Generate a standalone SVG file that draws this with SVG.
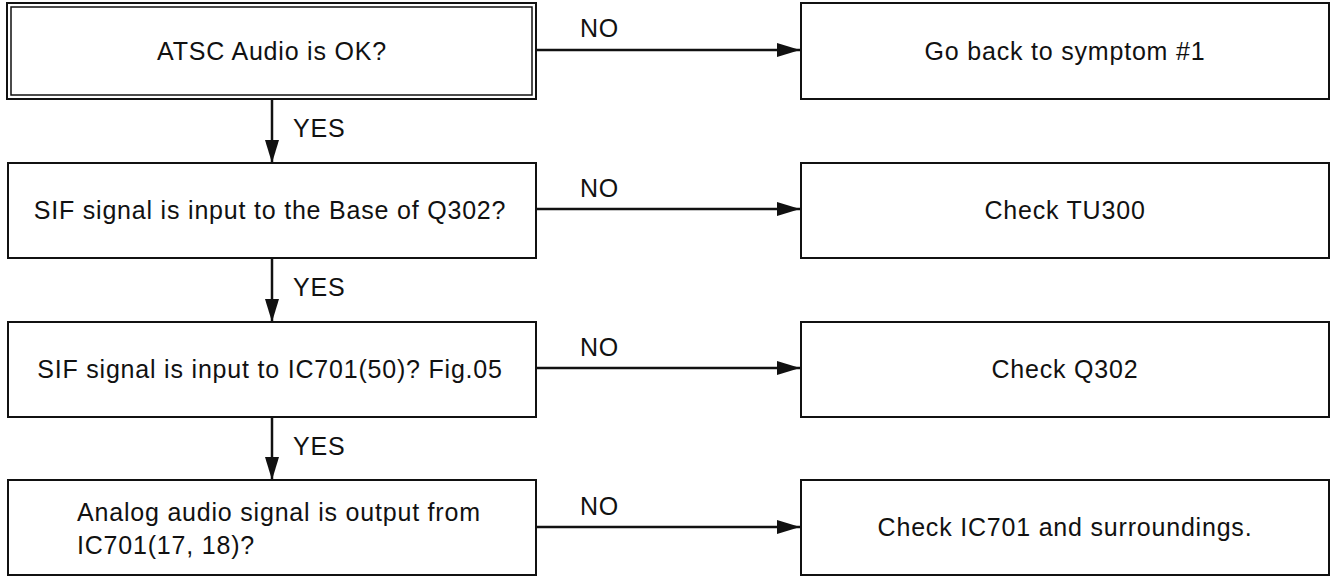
<svg xmlns="http://www.w3.org/2000/svg" width="1331" height="576" viewBox="0 0 1331 576">
<style>
.box{fill:#fff;stroke:#111;stroke-width:2}
.t{font-family:"Liberation Sans",Arial,sans-serif;font-size:25px;fill:#111;letter-spacing:0.8px}
.c{text-anchor:middle}
.ln{stroke:#111;stroke-width:2.5;fill:none}
</style>
<defs>
<marker id="ah" markerUnits="userSpaceOnUse" markerWidth="24" markerHeight="16" refX="23" refY="7" orient="auto">
<path d="M0,0 L23,7 L0,14 Z" fill="#111"/>
</marker>
</defs>
<rect width="1331" height="576" fill="#fff"/>
<g id="connectors">
<line class="ln" x1="536" y1="50" x2="800" y2="50" marker-end="url(#ah)"/>
<line class="ln" x1="536" y1="209" x2="800" y2="209" marker-end="url(#ah)"/>
<line class="ln" x1="536" y1="368" x2="800" y2="368" marker-end="url(#ah)"/>
<line class="ln" x1="536" y1="527" x2="800" y2="527" marker-end="url(#ah)"/>
<line class="ln" x1="272" y1="100" x2="272" y2="163" marker-end="url(#ah)"/>
<line class="ln" x1="272" y1="258" x2="272" y2="322" marker-end="url(#ah)"/>
<line class="ln" x1="272" y1="417" x2="272" y2="480" marker-end="url(#ah)"/>
<text class="t" x="580" y="37">NO</text>
<text class="t" x="580" y="197">NO</text>
<text class="t" x="580" y="356">NO</text>
<text class="t" x="580" y="515">NO</text>
<text class="t" x="293" y="137">YES</text>
<text class="t" x="293" y="296">YES</text>
<text class="t" x="293" y="455">YES</text>
</g>
<g id="n1">
<rect class="box" x="7" y="3" width="529" height="96"/>
<rect x="11" y="7" width="521" height="88" fill="none" stroke="#111" stroke-width="1.5"/>
<text class="t c" x="272" y="60">ATSC Audio is OK?</text>
</g>
<g id="n2">
<rect class="box" x="8" y="163" width="528" height="95"/>
<text class="t c" x="270" y="219">SIF signal is input to the Base of Q302?</text>
</g>
<g id="n3">
<rect class="box" x="8" y="322" width="528" height="95"/>
<text class="t c" x="270" y="378">SIF signal is input to IC701(50)? Fig.05</text>
</g>
<g id="n4">
<rect class="box" x="8" y="480" width="528" height="95"/>
<text class="t" x="77" y="521">Analog audio signal is output from</text>
<text class="t" x="77" y="554">IC701(17, 18)?</text>
</g>
<g id="r1">
<rect class="box" x="801" y="3" width="528" height="96"/>
<text class="t c" x="1065" y="60">Go back to symptom #1</text>
</g>
<g id="r2">
<rect class="box" x="801" y="163" width="528" height="95"/>
<text class="t c" x="1065" y="219">Check TU300</text>
</g>
<g id="r3">
<rect class="box" x="801" y="322" width="528" height="95"/>
<text class="t c" x="1065" y="378">Check Q302</text>
</g>
<g id="r4">
<rect class="box" x="801" y="480" width="528" height="95"/>
<text class="t c" x="1065" y="536">Check IC701 and surroundings.</text>
</g>
</svg>
